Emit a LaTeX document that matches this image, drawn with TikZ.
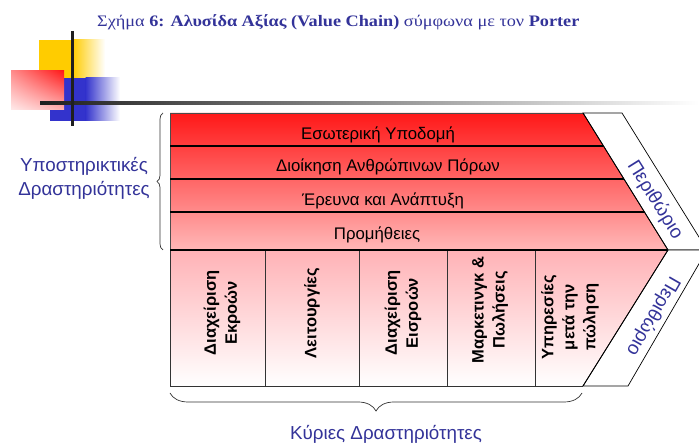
\documentclass[tikz,border=0pt]{standalone}
\usepackage{fontspec}
\setmainfont{Liberation Sans}
\newfontfamily\titlefont[FakeStretch=1.14]{Liberation Serif}
\usetikzlibrary{decorations.pathreplacing,shadings}
\definecolor{tblue}{RGB}{51,51,153}
\definecolor{topred}{RGB}{255,24,24}
\definecolor{midpink}{RGB}{255,184,184}
\definecolor{primpink}{RGB}{255,178,182}
\definecolor{gold}{RGB}{255,204,0}
\definecolor{dblue}{RGB}{51,51,204}
\begin{document}
\begin{tikzpicture}[x=1pt,y=1pt,
  rowtext/.style={font=\fontsize{16.8}{19}\selectfont, text=black, text height=12pt, text depth=3.5pt, inner sep=0pt},
  coltext/.style={font=\bfseries\fontsize{16.5}{21}\selectfont, rotate=90, align=center, inner sep=0pt},
  lbl/.style={text=tblue, font=\fontsize{18.8}{24}\selectfont, align=center, inner sep=0pt},
  margintext/.style={text=tblue, font=\fontsize{19}{22}\selectfont, inner sep=0pt},
  rowline/.style={line width=1.5pt, black},
  colline/.style={line width=0.9pt, black!80},
  band/.style={fill=white, draw=black, line width=0.7pt},
  bracestyle/.style={decorate, decoration={brace, amplitude=#1}, line width=0.7pt, black!80}
]
\useasboundingbox (0,0) rectangle (699,443);
\clip (0,0) rectangle (699,443);

% ---- corner ornament ----
\fill[gold] (39,365) rectangle (73,403);
\shade[left color=gold, right color=white] (72.5,365) rectangle (105,403);
\fill[dblue] (50,322) rectangle (86,365);
\shade[left color=dblue, right color=white] (85.5,322) rectangle (120,365);
\shade[upper right=red!90!white, upper left=red!45!white, lower right=red!30!white, lower left=red!8!white] (11,333) rectangle (64,372);
\shade[left color=black!88, right color=white] (40,338.5) rectangle (699,341.5);
\draw[line width=3pt, black!88] (72,412) -- (72,317);

% ---- title ----
\node[anchor=base west, inner sep=0pt, text=tblue, font=\titlefont\fontsize{16}{18}\selectfont] (title) at (97,416)
  {Σχήμα \textbf{6: Αλυσίδα Αξίας (Value Chain)} σύμφωνα με τον \textbf{Porter}};

% ---- support activities ----
\shade[top color=topred, bottom color=midpink] (170,330) -- (583,330) -- (668,193) -- (170,193) -- cycle;
\draw[line width=0.8pt, black!70] (170,193) -- (170,330) -- (583,330);
\draw[rowline] (170,297) -- (603.5,297);
\draw[rowline] (170,264) -- (624,264);
\draw[rowline] (170,231) -- (644.5,231);

% ---- primary activities ----
\shade[top color=primpink, bottom color=white] (170,193) -- (668,193) -- (583,57) -- (170,57) -- cycle;
\draw[line width=0.8pt, black!80] (170,193) -- (170,57) -- (583,57);
\foreach \xx in {265,359,447,535} \draw[colline] (\xx,193) -- (\xx,57);
\draw[rowline] (170,193) -- (668,193);

% ---- margin bands ----
\draw[band] (583,330) -- (622,330) -- (707,193) -- (668,193) -- cycle;
\draw[band] (668,193) -- (707,193) -- (628,57) -- (583,57) -- cycle;
\draw[line width=0.8pt, black] (583,330) -- (668,193) -- (583,57);

% ---- row texts ----
\node[rowtext] (infra) at (378,308) {Εσωτερική Υποδομή};
\node[rowtext] (hrm) at (388,275.5) {Διοίκηση Ανθρώπινων Πόρων};
\node[rowtext] (rnd) at (383,242) {Έρευνα και Ανάπτυξη};
\node[rowtext] (proc) at (377,207.5) {Προμήθειες};

% ---- column texts ----
\node[coltext] (outlog) at (222,130) {Διαχείριση\\Εκροών};
\node[coltext] (ops) at (312,130) {Λειτουργίες};
\node[coltext] (inlog) at (403,130) {Διαχείριση\\Εισροών};
\node[coltext] (mark) at (490,133) {Μαρκετινγκ \&\\Πωλήσεις};
\node[coltext] (serv) at (570,126) {Υπηρεσίες\\μετά την\\πώληση};

% ---- margin labels ----
\node[margintext, rotate=-58] (m1) at (655,243) {Περιθώριο};
\node[margintext, rotate=-120] (m2) at (653,127) {Περιθώριο};

% ---- braces and group labels ----
\draw[bracestyle=6] (163,193) -- (163,330);
\draw[bracestyle=18] (582,50) -- (170,50);
\node[lbl] (suplbl) at (84,265) {Υποστηρικτικές\\Δραστηριότητες};
\node[lbl] (primlbl) at (386,9) {Κύριες Δραστηριότητες};
\end{tikzpicture}
\end{document}
